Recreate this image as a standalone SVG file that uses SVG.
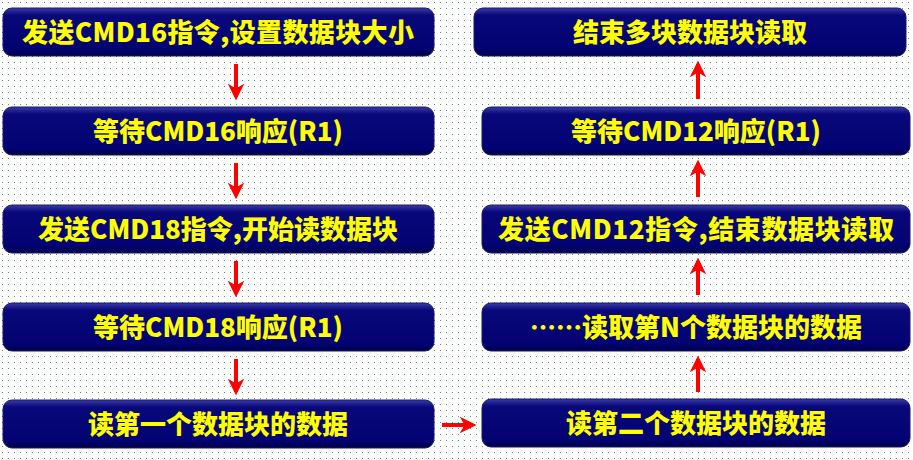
<svg xmlns="http://www.w3.org/2000/svg" width="913" height="460" viewBox="0 0 913 460">
<defs>
<pattern id="dots" width="6" height="6" patternUnits="userSpaceOnUse"><rect x="2" y="2" width="1" height="1" fill="#5f8a7a"/></pattern>
<linearGradient id="g" x1="0" y1="0" x2="0" y2="1"><stop offset="0" stop-color="#3a3aa8"/><stop offset="0.15" stop-color="#08087a"/><stop offset="0.85" stop-color="#020272"/><stop offset="1" stop-color="#00004a"/></linearGradient>
<marker id="ah" viewBox="0 0 10 10" refX="8" refY="5" markerWidth="4.2" markerHeight="4.2" orient="auto"><path d="M0,0 L10,5 L0,10 L3,5 Z" fill="#ff0000"/></marker>
</defs>
<style>
.b{fill:url(#g);stroke:#1a1a60;stroke-width:1}
.t{font-family:"Noto Sans CJK SC","Liberation Sans",sans-serif;font-weight:900;font-size:26px;fill:#ffff00;text-anchor:middle}
.a{stroke:#ff0000;stroke-width:4;fill:none;marker-end:url(#ah)}
</style>
<rect width="913" height="460" fill="#fff"/>
<rect width="913" height="460" fill="url(#dots)"/>
<g id="n1"><rect class="b" x="3" y="8" width="431" height="48" rx="9"/><text class="t" x="218" y="42" textLength="392">发送CMD16指令,设置数据块大小</text></g>
<g id="n2"><rect class="b" x="3" y="107" width="431" height="48" rx="9"/><text class="t" x="218" y="141">等待CMD16响应(R1)</text></g>
<g id="n3"><rect class="b" x="3" y="205" width="431" height="48" rx="9"/><text class="t" x="218" y="239">发送CMD18指令,开始读数据块</text></g>
<g id="n4"><rect class="b" x="3" y="303" width="431" height="48" rx="9"/><text class="t" x="218" y="337">等待CMD18响应(R1)</text></g>
<g id="n5"><rect class="b" x="3" y="400" width="431" height="48" rx="9"/><text class="t" x="218" y="434">读第一个数据块的数据</text></g>
<g id="n6"><rect class="b" x="482" y="399" width="428" height="48" rx="9"/><text class="t" x="696" y="433">读第二个数据块的数据</text></g>
<g id="n7"><rect class="b" x="482" y="303" width="428" height="48" rx="9"/><text class="t" x="696" y="337">……读取第N个数据块的数据</text></g>
<g id="n8"><rect class="b" x="482" y="205" width="428" height="48" rx="9"/><text class="t" x="696" y="239" textLength="396">发送CMD12指令,结束数据块读取</text></g>
<g id="n9"><rect class="b" x="482" y="107" width="428" height="48" rx="9"/><text class="t" x="696" y="141">等待CMD12响应(R1)</text></g>
<g id="n10"><rect class="b" x="474" y="8" width="432" height="48" rx="9"/><text class="t" x="690" y="42">结束多块数据块读取</text></g>
<g id="edges">
<line class="a" x1="236" y1="64" x2="236" y2="97"/>
<line class="a" x1="236" y1="163" x2="236" y2="196"/>
<line class="a" x1="236" y1="261" x2="236" y2="294"/>
<line class="a" x1="236" y1="359" x2="236" y2="392"/>
<line class="a" x1="442" y1="425" x2="473" y2="425"/>
<line class="a" x1="698" y1="392" x2="698" y2="359"/>
<line class="a" x1="698" y1="295" x2="698" y2="261"/>
<line class="a" x1="698" y1="197" x2="698" y2="163"/>
<line class="a" x1="698" y1="99" x2="698" y2="64"/>
</g>
</svg>
